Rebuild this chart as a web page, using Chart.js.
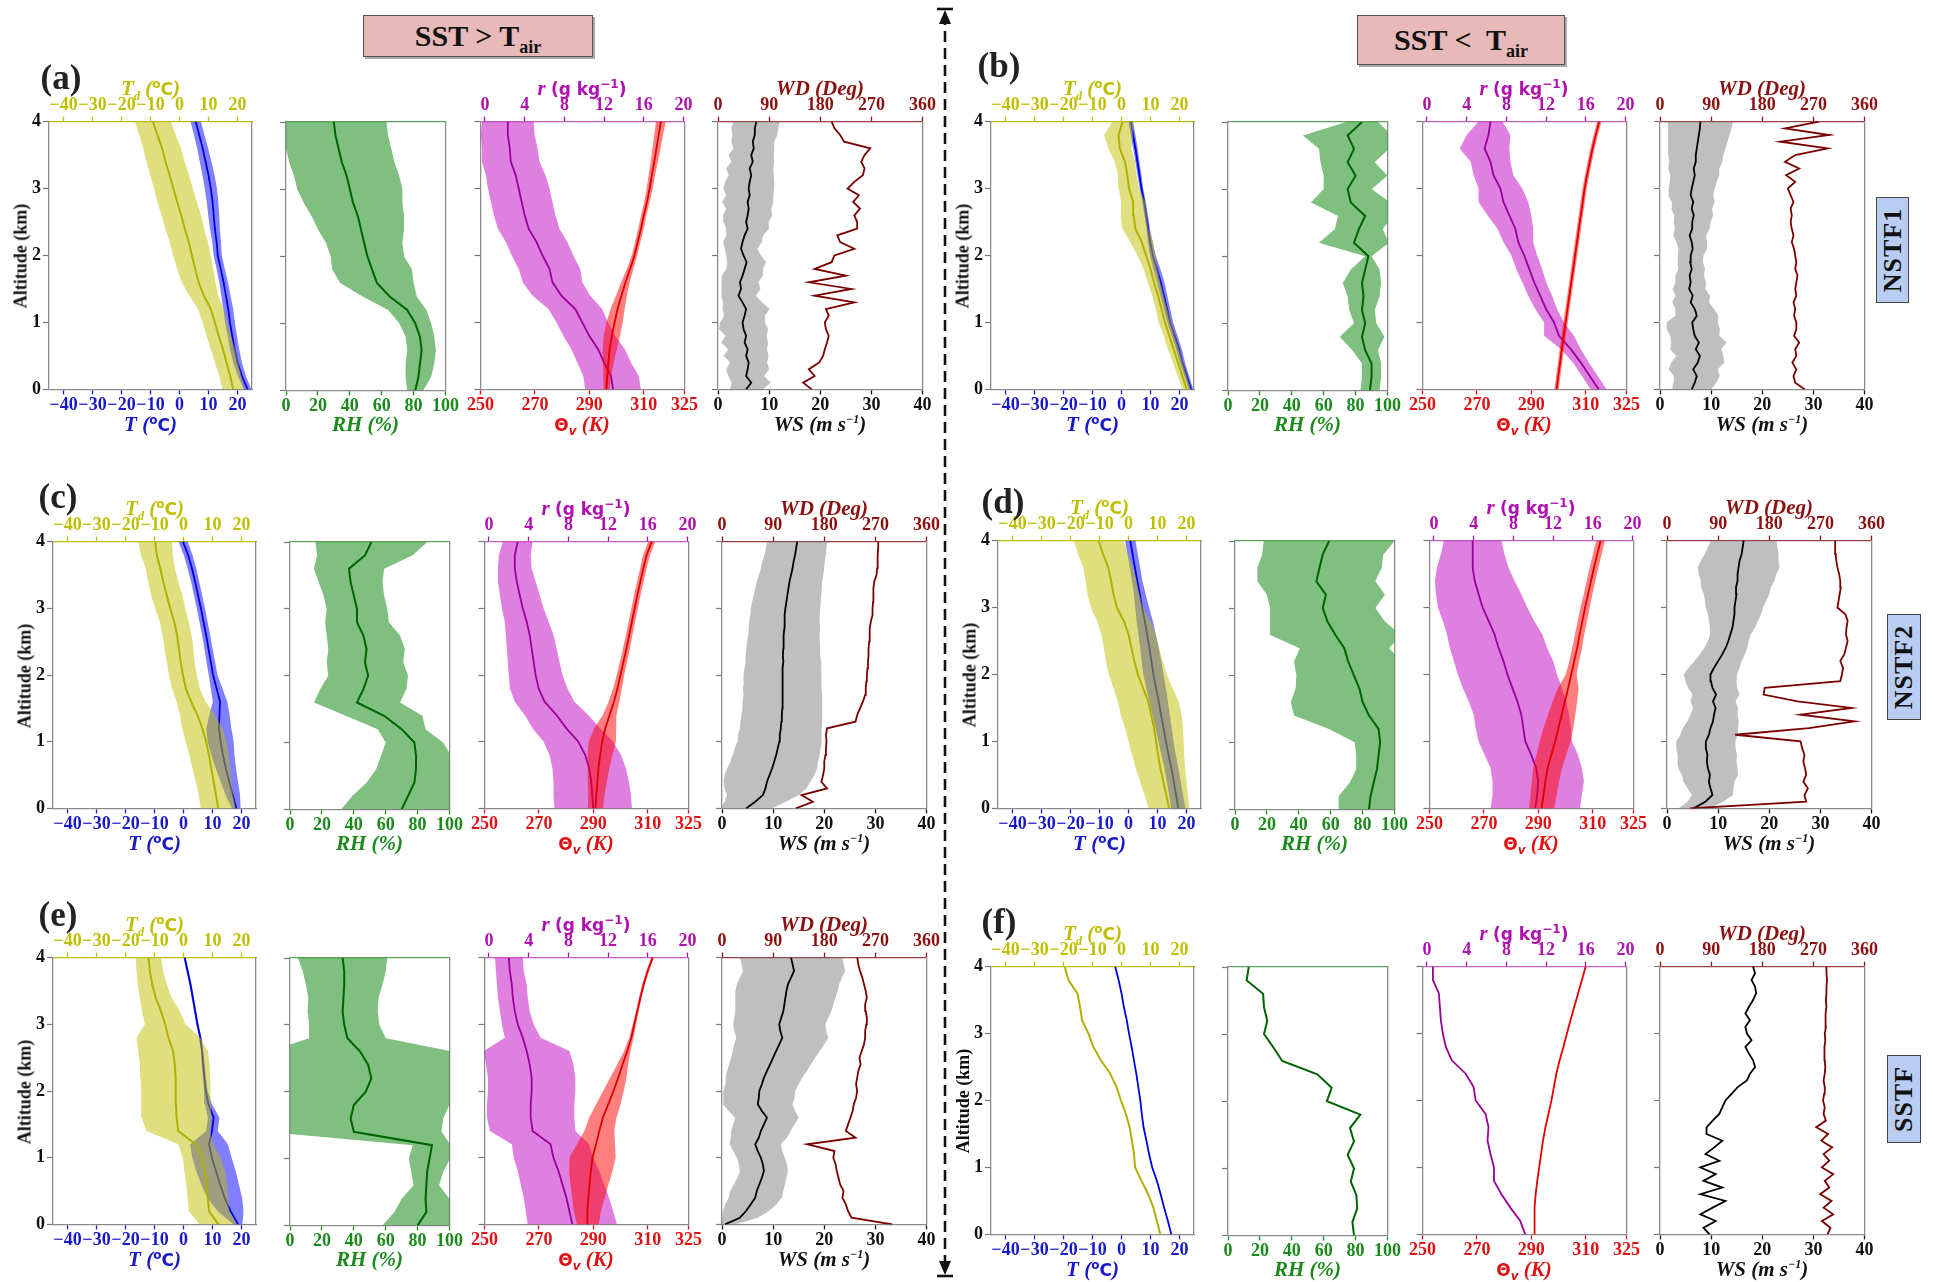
<!DOCTYPE html>
<html><head><meta charset="utf-8">
<script src="https://cdn.jsdelivr.net/npm/chart.js@4.4.1/dist/chart.umd.min.js"></script>
<style>
html,body{margin:0;padding:0;background:#fff;}
body{width:1934px;height:1282px;position:relative;overflow:hidden;font-family:"Liberation Serif","Times New Roman",serif;}
canvas{position:absolute;}
.ttl{position:absolute;transform:translate(-50%,-50%);white-space:nowrap;font:italic bold 21px "Liberation Serif",serif;line-height:1;}
.ttl .s{font-family:"DejaVu Sans",sans-serif;font-style:normal;font-size:17px;}
.ttl sub,.ttl sup{font-size:12px;line-height:0;}
.alt{position:absolute;transform:translate(-50%,-50%) rotate(-90deg);white-space:nowrap;font:bold 18px "Liberation Serif",serif;color:#111;}
.lab{position:absolute;transform:translate(-50%,-50%);font:bold 35px "Liberation Serif",serif;color:#222;}
.hdr{position:absolute;background:#e8b9b9;border:1.5px solid #555;box-shadow:2px 2px 0 #aaa;box-sizing:border-box;}
.hdr span{position:absolute;left:50%;top:50%;transform:translate(-50%,-50%);white-space:nowrap;font:bold 30px "Liberation Serif",serif;color:#111;line-height:1;}
.hdr sub{font-size:18px;line-height:0;}
.side{position:absolute;background:#b9cdf2;border:1.5px solid #444;box-sizing:border-box;}
.side span{position:absolute;left:50%;top:50%;transform:translate(-50%,-50%) rotate(-90deg);font:bold 26px "Liberation Serif",serif;color:#111;letter-spacing:1px;}
</style></head><body>
<script>
// ---------------- DATA ----------------
const ALT = [0,0.2,0.4,0.6,0.8,1.0,1.2,1.4,1.6,1.8,2.0,2.2,2.4,2.6,2.8,3.0,3.2,3.4,3.6,3.8,4.0];
const ALT_FINE = [0,0.1,0.2,0.3,0.4,0.5,0.6,0.7,0.8,0.9,1.0,1.1,1.2,1.3,1.4,1.5,1.6,1.7,1.8,1.9,2.0,2.1,2.2,2.3,2.4,2.5,2.6,2.7,2.8,2.9,3.0,3.1,3.2,3.3,3.4,3.5,3.6,3.7,3.8,3.9,4.0];

const ALT_TICKS = [0,1,2,3,4];
const T_TICKS = [-40,-30,-20,-10,0,10,20];
const RH_TICKS = [0,20,40,60,80,100];
const TH_TICKS = [250,270,290,310,325];
const R_TICKS = [0,4,8,12,16,20];
const WS_TICKS = [0,10,20,30,40];
const WD_TICKS = [0,90,180,270,360];

const PANEL_LABELS = ['(a)','(b)','(c)','(d)','(e)','(f)'];
const CASE_NAMES = ['NSTF1','NSTF2','SSTF'];

// (a)
const T_a = [23.5,21.5,20.0,19.0,18.2,17.4,16.8,16.0,15.2,14.2,13.2,12.8,12.2,11.8,11.4,10.8,10.0,9.0,8.0,6.8,5.6];
const T_a_sd = [1.3,1.4,1.5,1.6,1.6,1.7,1.7,1.6,1.5,1.4,1.4,1.5,1.7,1.9,2.0,2.1,2.1,2.0,1.9,1.8,1.8];
const TD_a = [18.5,17.5,16.2,15.0,13.5,12.2,10.8,8.4,6.6,5.4,4.3,3.2,1.8,0.6,-0.8,-2.1,-3.4,-4.8,-6.0,-7.6,-9.2];
const TD_a_sd = [3.6,3.8,4.0,4.2,4.2,4.2,4.4,5.0,5.8,6.2,6.5,6.6,6.7,6.8,6.8,6.7,6.7,6.6,6.5,6.3,6.2];
const RH_a = [81,83,84,85,84,81,76,65,57,54,51,49,47,45,42,40,38,35,33,31,30];
const RH_a_sd = [5,8,9,9,9,10,12,17,23,25,23,24,27,29,31,33,33,33,33,33,33];
const TH_a = [296.3,296.6,297,297.5,298.3,299.3,300.4,301.8,303.3,305,306.6,307.8,309,310,311.2,312.2,313,313.9,314.7,315.5,316.3];
const TH_a_sd = [1,1.4,2,2.6,3,3,2.6,2,1.6,1.2,1.0,1,1,1,1,1.1,1.2,1.3,1.5,1.6,1.8];
const R_a = [12.9,12.7,12.0,11.4,10.5,9.8,9.1,7.7,6.8,6.5,5.8,5.2,4.4,4.0,3.7,3.4,3.1,2.6,2.5,2.3,2.3];
const R_a_sd = [2.8,2.8,2.7,2.7,2.6,2.6,2.7,2.9,3,3.1,3.1,3.1,3.1,3.1,3.1,3.1,3,2.9,2.8,2.7,2.6];
const WS_a = [5.5,6.5,5.5,5.8,6.0,5.5,5.8,5.2,5.5,5.0,4.8,5.2,5.5,4.8,4.0,4.5,4.3,4.8,5.2,5.6,5.0,4.5,4.8,5.2,5.8,5.5,5.8,6.0,5.8,6.2,6.0,6.2,6.5,6.2,6.8,6.5,7.0,6.8,7.2,7.2,7.5];
const WS_a_sd = [3.2,3.8,3.5,4.2,3.6,4.4,3.8,4.6,4.0,4.8,4.4,4.0,4.6,3.8,3.4,3.8,3.6,4.0,3.6,3.8,3.4,3.2,3.8,3.6,4.2,4.4,4.8,4.4,5.0,4.6,5.0,4.8,4.4,4.6,4.2,4.4,4.0,4.2,4.4,4.6,4.5];
const WD_a = [165,150,170,160,178,185,188,192,195,190,188,195,190,240,170,235,160,225,170,200,205,240,215,210,245,245,240,250,238,248,228,240,255,258,252,258,268,222,215,205,200];

// (b)
const T_b = [24,22.5,21,19.8,18.3,16.8,15.7,14.6,13.5,12.2,10.8,9.9,9.2,8.5,7.8,6.9,6.2,5.5,4.8,4.0,3.2];
const T_b_sd = [0.8,0.8,0.9,1,1,1,1.1,1.2,1.3,1.2,1,0.8,0.6,0.6,0.6,0.6,0.7,0.7,0.8,0.8,0.8];
const TD_b = [22.5,21,19.5,18,16.5,15,13.8,12.6,11.2,10,8.5,7,4.8,4.2,4.0,2.6,2.0,1.2,-0.6,-1.0,0.4];
const TD_b_sd = [1.5,1.6,1.8,2,2,2.2,2.0,2.0,2.2,2.4,3,4,4.5,4.5,4.2,3.5,3.2,3.5,4,5,3.5];
const RH_b = [89,90,90,86,84,86,84,85,84,86,88,79,82,86,77,75,80,75,79,75,84];
const RH_b_sd = [6,6,6,8,14,7,8,10,12,9,2,22,15,17,25,15,20,17,22,28,10];
const TH_b = [299.3,299.9,300.6,301.2,301.9,302.6,303.3,304,304.7,305.4,306.1,306.8,307.5,308.2,308.9,309.6,310.5,311.5,312.5,313.7,315];
const TH_b_sd = [0.8,0.8,0.8,0.8,0.8,0.8,0.8,0.8,0.8,0.8,0.8,0.8,0.8,0.8,0.8,0.8,0.8,0.8,0.8,0.8,0.8];
const R_b = [17.3,16.4,15.5,14.5,13.3,12.8,12,11.4,10.8,10.3,9.8,9.2,8.9,8.3,7.7,7.4,6.7,6.4,5.8,6.2,6.4];
const R_b_sd = [0.8,0.8,0.8,1.0,1.5,1.0,1.1,1.2,1.2,1.3,1.3,1.5,1.8,2.2,2.5,2.2,2.0,2.0,2.5,2.2,1.2];
const WS_b = [6.2,6.8,7.2,6.5,7.4,7.8,7.0,7.6,6.8,6.5,6.3,7.2,6.8,6.0,6.4,5.7,6.0,5.8,6.2,5.9,6.0,6.4,6.2,5.8,6.3,6.3,6.6,6.2,6.5,6.0,6.2,6.5,6.8,6.6,7.0,7.0,7.2,7.4,7.6,7.8,7.9];
const WS_b_sd = [3.8,4.2,4.5,4.8,5.2,4.6,5.0,5.4,4.8,5.2,5.0,4.2,3.8,3.6,3.4,3.2,3.0,2.8,2.6,2.5,2.5,2.8,3.0,3.2,3.4,3.6,3.8,4.0,4.2,4.4,4.5,4.6,4.8,5.0,5.2,5.4,5.6,5.8,6.0,6.2,6.4];
const WD_b = [255,238,235,240,233,240,238,245,236,240,240,236,238,235,240,238,240,242,238,240,238,236,232,235,232,230,232,230,235,230,225,238,222,245,220,238,295,212,298,220,280];

// (c)
const T_c = [18.2,17.0,15.8,14.6,13.6,12.8,12.2,12.4,12.6,11.4,10.2,9.4,8.6,7.8,6.9,6.0,5.0,4.0,2.9,1.6,-0.2];
const T_c_sd = [1.5,2.5,3,3.5,4,4.5,4.3,3.5,2.5,2,1.5,1.5,1.4,1.4,1.4,1.4,1.4,1.4,1.5,1.5,1.6];
const TD_c = [12,11.2,10.4,9.6,8.8,7.8,6.5,4.8,2.6,0.8,-0.2,-1.0,-1.6,-2.2,-3.2,-4.6,-5.8,-7.0,-8.0,-9.2,-9.8];
const TD_c_sd = [6,6,6.2,6.5,6.8,7,7,6,5,4.8,4.8,4.8,5,5,5,5.2,5.4,5.2,5.0,5.5,5.8];
const RH_c = [70,74,78,79,79,78,70,59,42,46,49,47,48,46,42,42,40,38,37,47,51];
const RH_c_sd = [38,35,30,25,22,18,15,24,27,27,25,24,24,23,20,19,19,20,22,30,35];
const TH_c = [290.8,291.1,291.5,291.9,292.5,293.3,294.4,296,297.6,298.9,300,301.1,302.2,303.2,304.2,305.2,306.2,307.3,308.4,309.6,311.5];
const TH_c_sd = [2.8,3,3.5,4,4.5,5,4,2.5,2,1.6,1.4,1.3,1.3,1.2,1.2,1.2,1.2,1.2,1.2,1.3,1.3];
const R_c = [10.5,10.4,10.3,10.1,9.7,9.0,7.8,6.8,5.6,5.0,4.7,4.5,4.3,4.1,3.8,3.4,3.1,2.8,2.6,2.6,2.9];
const R_c_sd = [3.9,3.9,3.8,3.7,3.6,3.5,3.4,3.2,3,2.9,2.7,2.6,2.5,2.4,2.2,2.1,2,1.9,1.7,1.6,1.5];
const WS_c = [4.7,6.5,8.0,8.5,8.8,9.3,9.8,10.2,10.6,10.9,11.2,11.3,11.5,11.6,11.7,11.8,11.8,11.9,11.8,11.9,11.8,11.9,12.0,11.9,12.0,12.0,12.1,12.2,12.2,12.3,12.4,12.6,12.8,13.0,13.2,13.5,13.8,14.0,14.3,14.5,14.7];
const WS_c_sd = [5.0,6.0,7.0,8.0,8.5,8.8,8.8,8.6,8.5,8.4,8.2,8.2,8.0,8.0,7.9,7.8,7.8,7.7,7.7,7.6,7.6,7.5,7.4,7.3,7.2,7.1,7.0,7.0,6.9,6.8,6.8,6.7,6.6,6.5,6.4,6.3,6.2,6.1,6.0,5.9,5.9];
const WD_c = [130,160,140,185,175,178,180,180,182,183,184,183,185,235,238,243,248,252,253,254,255,256,257,258,258,259,260,260,262,265,265,266,266,267,268,272,273,274,274,275,275];

// (d)
const T_d = [17.2,16.4,15.6,14.8,13.8,12.9,12.1,11.2,10.4,9.5,8.6,7.9,7.2,6.4,5.6,4.7,3.9,3.0,2.2,1.4,0.6];
const T_d_sd = [2.5,2.4,2.4,2.4,2.5,2.6,2.8,3,3.2,3.4,3.5,3.4,3.2,3,2.8,2.4,2,1.8,1.8,1.8,1.8];
const TD_d = [14,13,12,11,10.2,9.5,8.8,7.8,6.8,5,3.2,2,1,0,-1.6,-4.0,-5.2,-6,-7,-8.8,-10.3];
const TD_d_sd = [7,7.5,8,8.5,9,9.5,10,10.5,10.5,10.2,10,9.8,9.5,9.4,9.2,9,9,8.8,8.6,8.6,8.6];
const RH_d = [84,85,87,89,90,91,90,84,80,78,74.5,71,68.6,63,58,55,57,51,53,55,59];
const RH_d_sd = [19,20,15,13,14,16,31,47,45,40,36,34,28,41,36,33,37,37,39,38,41];
const TH_d = [291.2,291.9,292.6,293.4,294.8,296.2,297.4,298.6,299.8,301,302.1,303.2,304.3,305.2,306.2,307.2,308.3,309.4,310.5,311.7,312.9];
const TH_d_sd = [4.6,4.8,5,5.3,5.5,5.7,5.5,5,4.5,3.8,2,1.8,1.8,1.7,1.7,1.7,1.6,1.6,1.6,1.6,1.6];
const R_d = [10.2,10.4,10.5,10.3,9.8,9.2,9.0,8.8,8.4,7.9,7.4,7.0,6.5,6.1,5.5,4.9,4.5,4.1,3.9,3.9,3.9];
const R_d_sd = [4.5,4.5,4.6,4.6,4.7,4.7,4.8,4.8,4.9,5,5,5,4.9,4.8,4.6,4.5,4.3,4,3.6,3.2,2.9];
const WS_d = [5.2,7.5,8.9,8.5,8.2,8.4,8.0,7.8,7.9,7.6,7.6,8.2,8.5,9.0,9.2,9.5,9.0,9.6,8.9,8.6,8.5,9.2,10.0,10.8,11.5,12.0,12.4,12.8,13.0,13.2,13.2,13.4,13.6,13.5,13.8,13.8,14.0,14.2,14.6,14.8,15.0];
const WS_d_sd = [3,3.5,4,4.5,5,5.5,5.8,5.8,5.8,5.8,5.8,5.6,5.4,5,4.6,4.4,4.4,4.6,4.8,5,5.2,5,4.6,4.4,4.2,4,4,4.4,4.8,5.2,5.6,6,6.4,6.8,7.2,7.6,8,7.6,7.2,6.8,6.4];
const WD_d = [40,245,242,248,240,245,243,240,242,238,235,120,250,330,235,325,230,170,172,305,308,310,305,312,315,318,315,316,318,314,300,302,304,306,305,303,300,298,297,296,296];

// (e)
const T_e = [18.8,16.2,14.2,12.6,11.2,9.8,8.8,9.8,10.4,8.6,7.7,7.2,6.8,6.4,5.8,4.8,4.0,3.2,2.4,1.4,0.4];
const T_e_sd = [1.5,4.5,6,6.5,6.8,6.8,6.5,2,2,1.2,0.6,0.5,0.5,0.4,0.4,0.4,0.4,0.4,0.4,0.4,0.4];
const TD_e = [12,8.8,8.4,8.0,7.3,6.3,4.2,-1.8,-2.4,-2.6,-2.6,-2.8,-3.0,-3.6,-5.2,-6.3,-7.8,-9.6,-10.8,-11.6,-12.1];
const TD_e_sd = [6.5,7,7,7,7,6.5,6,11,12,12,12,12,12,12,11,7,6.5,5.5,5,4.6,4.4];
const RH_e = [80,85.5,85,85.5,86,87.5,89,40,38,40,47.5,51,49,44,36,34,33,33.5,34,34,33];
const RH_e_sd = [22,20,15,8,10,13,12,55,58,60,62,62,60,58,24,22,22,22,24,26,28];
const TH_e = [288,287.8,288.2,288.6,289.1,289.7,291,292.2,293.5,295.5,297.4,299.2,300.8,302.5,304,305.1,306.2,307.3,308.5,310,311.8];
const TH_e_sd = [4,5,6,7,8,8.5,7,5.5,5,4.5,3.8,3,2,1.2,0.8,0.6,0.5,0.5,0.5,0.5,0.5];
const R_e = [8.4,8.1,7.8,7.4,7.0,6.5,6.2,4.4,4.2,4.2,4.3,4.3,4.1,3.8,3.4,2.9,2.6,2.4,2.3,2.1,2.0];
const R_e_sd = [4.5,4.4,4.3,4.2,4.1,4,3.9,4.3,4.4,4.4,4.4,4.4,4.4,4.3,1.8,1.6,1.5,1.5,1.5,1.4,1.4];
const WS_e = [0.6,3.5,4.7,5.6,6.5,6.8,7.3,7.8,8.2,8.0,7.6,7.0,6.5,7.2,7.6,8.2,8.8,7.8,7.0,7.2,7.3,7.8,8.2,8.8,9.4,10.0,10.6,11.2,11.8,11.4,11.2,11.6,12.0,12.2,12.4,12.6,12.9,13.5,14.1,13.8,13.5];
const WS_e_sd = [2,3.5,4.5,5,5.2,5.2,5,4.8,4.7,4.7,4.7,4.8,5,5.5,5.8,6,6.2,6.5,6.8,7,7,7.2,7.5,7.8,8,8.2,8.5,8.8,9,9,9,9.2,9.4,9.6,9.8,10,10,10,10,10,10];
const WD_e = [300,228,222,218,212,214,208,205,202,200,196,198,150,235,218,222,226,230,232,236,238,236,238,240,244,242,246,250,252,252,254,255,253,252,255,253,250,247,243,240,238];

// (f) single profile, no spread
const T_f = [17.2,16,14.7,13.5,12.2,10.6,9.5,8.6,7.6,7,6.5,5.8,5.1,4.3,3.5,2.6,1.8,0.8,0.0,-1.0,-2.2];
const TD_f = [13.4,12.2,11,9.2,6.9,4.7,4.3,3.6,2.8,1.5,-0.2,-1.7,-3.9,-7.1,-9.7,-11.4,-13.6,-14.3,-15.2,-18.3,-19.6];
const RH_f = [79,78,81,80.5,77,79,75,79,76.5,83,62,65,56,34,28.5,22.6,24.6,22.6,22,11.7,13];
const TH_f = [291,291.1,291.3,291.6,292.2,292.9,293.6,294.3,295.2,296.3,297.4,298.3,299.2,300.4,301.8,303.1,304.4,305.8,307.2,308.6,310];
const R_f = [9.9,9.4,8.4,7.5,6.75,6.75,6.4,6.1,6.2,5.9,4.9,4.7,3.9,2.5,1.9,1.6,1.4,1.3,1.2,0.6,0.6];
const WS_f = [9.7,8.5,10.9,7.9,10.3,12.8,7.9,12.2,8.5,10.9,7.9,11.6,8.9,10.6,12.2,9.1,9.1,10.3,11.6,12.2,12.8,14.0,15.2,17.0,17.6,18.6,18.2,17.4,16.7,17.9,17.0,16.7,17.6,16.7,17.4,18.2,18.8,18.6,17.9,18.6,18.2];
const WD_f = [295,300,285,305,288,302,282,298,290,305,285,298,288,303,284,296,275,292,288,290,287,289,290,288,290,291,290,289,290,291,290,292,291,292,293,292,293,293,294,293,293];

// ---------------- LAYOUT / STYLE ----------------
const FONT_T = {family:'"Liberation Serif", serif', size:18, weight:'bold'};
const C = {
  T:'#0000dd', Tb:'rgba(0,0,255,0.5)', Tl:'#1818c8',
  TD:'#b0b000', TDb:'rgba(191,191,0,0.5)', TDl:'#bfbf00',
  RH:'#006400', RHb:'rgba(0,128,0,0.5)', RHl:'#1a8a1a',
  TH:'#e00000', THb:'rgba(255,0,0,0.5)', THl:'#dd1111',
  R:'#990099', Rb:'rgba(191,0,191,0.5)', Rl:'#b010b0',
  WS:'#000000', WSb:'rgba(128,128,128,0.5)', WSl:'#111111',
  WD:'#7a0000', WDl:'#8b1010', spine:'#8c8c8c'
};
const OFFS = [[0,203],[237,396],[431,635],[669,873]];
const GROUPS = [
  {x:49, y:122, h:268, lab:[61,78], T:T_a,Tsd:T_a_sd,TD:TD_a,TDsd:TD_a_sd,RH:RH_a,RHsd:RH_a_sd,TH:TH_a,THsd:TH_a_sd,R:R_a,Rsd:R_a_sd,WS:WS_a,WSsd:WS_a_sd,WD:WD_a},
  {x:991, y:122, h:268, lab:[999,66], T:T_b,Tsd:T_b_sd,TD:TD_b,TDsd:TD_b_sd,RH:RH_b,RHsd:RH_b_sd,TH:TH_b,THsd:TH_b_sd,R:R_b,Rsd:R_b_sd,WS:WS_b,WSsd:WS_b_sd,WD:WD_b},
  {x:53, y:542, h:267, lab:[58,497], T:T_c,Tsd:T_c_sd,TD:TD_c,TDsd:TD_c_sd,RH:RH_c,RHsd:RH_c_sd,TH:TH_c,THsd:TH_c_sd,R:R_c,Rsd:R_c_sd,WS:WS_c,WSsd:WS_c_sd,WD:WD_c},
  {x:998, y:541, h:268, lab:[1003,502], T:T_d,Tsd:T_d_sd,TD:TD_d,TDsd:TD_d_sd,RH:RH_d,RHsd:RH_d_sd,TH:TH_d,THsd:TH_d_sd,R:R_d,Rsd:R_d_sd,WS:WS_d,WSsd:WS_d_sd,WD:WD_d},
  {x:53, y:958, h:267, lab:[58,915], T:T_e,Tsd:T_e_sd,TD:TD_e,TDsd:TD_e_sd,RH:RH_e,RHsd:RH_e_sd,TH:TH_e,THsd:TH_e_sd,R:R_e,Rsd:R_e_sd,WS:WS_e,WSsd:WS_e_sd,WD:WD_e},
  {x:991, y:967, h:268, lab:[999,922], T:T_f,Tsd:null,TD:TD_f,TDsd:null,RH:RH_f,RHsd:null,TH:TH_f,THsd:null,R:R_f,Rsd:null,WS:WS_f,WSsd:null,WD:WD_f}
];

function fmt(v){ return v < 0 ? '\u2212' + Math.abs(v) : String(v); }
function prof(vals, alts){ return vals.map((v,i)=>({x:v, y:alts[i]})); }
function band(vals, sd, alts){
  const lo = vals.map((v,i)=>({x:v - sd[i], y:alts[i]}));
  const hi = vals.map((v,i)=>({x:v + sd[i], y:alts[i]})).reverse();
  return lo.concat(hi);
}
function lineDs(data, color, ax, w){ return {data, borderColor:color, borderWidth:w||2, showLine:true, pointRadius:0, fill:false, xAxisID:ax, yAxisID:'y'}; }
function bandDs(data, color, ax){ return {data, backgroundColor:color, borderWidth:0, borderColor:'rgba(0,0,0,0)', showLine:true, pointRadius:0, fill:'shape', xAxisID:ax, yAxisID:'y'}; }

function xAxis(pos, min, max, ticks, col, spine){
  const ax = {type:'linear', position:pos, min, max,
    border:{display:true, color:spine, width:1.3},
    grid:{display:!!ticks, drawOnChartArea:false, drawTicks:true, tickLength:5, tickColor:col, tickWidth:1.3},
    ticks:{display:!!ticks, color:col, font:FONT_T, padding:0, autoSkip:false, maxRotation:0, minRotation:0, callback:fmt}
  };
  if (ticks) ax.afterBuildTicks = s => { s.ticks = ticks.map(v=>({value:v})); };
  return ax;
}
function yAxes(showLabels){
  return {
    y:{type:'linear', position:'left', min:0, max:4,
      afterBuildTicks: s => { s.ticks = ALT_TICKS.map(v=>({value:v})); },
      border:{display:true, color:C.spine, width:1.3},
      grid:{display:true, drawOnChartArea:false, drawTicks:true, tickLength:6, tickColor:'#777', tickWidth:1.2},
      ticks:{display:showLabels, color:'#111', font:FONT_T, padding:2, callback:fmt}},
    yr:{type:'linear', position:'right', min:0, max:4,
      border:{display:true, color:C.spine, width:1.3},
      grid:{display:false, drawTicks:false}, ticks:{display:false}}
  };
}
function cfg(datasets, scales){
  return {type:'scatter', data:{datasets},
    options:{responsive:false, animation:false, events:[], maintainAspectRatio:false,
      layout:{padding:{left:2,right:2,top:2,bottom:2}},
      plugins:{legend:{display:false}, tooltip:{enabled:false}},
      scales}};
}
function mount(target, make){
  const W0 = Math.round(target.w)+80, H0 = Math.round(target.h)+80;
  let c = document.createElement('canvas'); c.width=W0; c.height=H0; c.style.width=W0+'px'; c.style.height=H0+'px';
  document.body.appendChild(c);
  let ch = new Chart(c, make()); let ca = ch.chartArea;
  const dw = Math.round(target.w - (ca.right-ca.left)), dh = Math.round(target.h - (ca.bottom-ca.top));
  ch.destroy(); c.remove();
  const W = W0+dw, H = H0+dh;
  c = document.createElement('canvas'); c.width=W; c.height=H; c.style.width=W+'px'; c.style.height=H+'px';
  document.body.appendChild(c);
  ch = new Chart(c, make()); ca = ch.chartArea;
  c.style.left = Math.round(target.x - ca.left)+'px'; c.style.top = Math.round(target.y - ca.top)+'px';
  return ch;
}
function addText(cls, html, x, y, color){
  const d = document.createElement('div'); d.className=cls; d.innerHTML=html;
  d.style.left=x+'px'; d.style.top=y+'px'; if (color) d.style.color=color;
  document.body.appendChild(d); return d;
}

GROUPS.forEach((g, gi) => {
  const px = OFFS.map(o => ({x:g.x+o[0], w:o[1]-o[0]}));
  // Panel 1: T and Td
  mount({x:px[0].x, y:g.y, w:px[0].w, h:g.h}, () => {
    const ds = [];
    ds.push(lineDs(prof(g.TD, ALT), C.TD, 'x2'));
    if (g.TDsd) ds.push(bandDs(band(g.TD, g.TDsd, ALT), C.TDb, 'x2'));
    ds.push(lineDs(prof(g.T, ALT), C.T, 'x', 1.8));
    if (g.Tsd) ds.push(bandDs(band(g.T, g.Tsd, ALT), C.Tb, 'x'));
    return cfg(ds, Object.assign({
      x:xAxis('bottom',-45,25,T_TICKS,C.Tl,C.spine),
      x2:xAxis('top',-45,25,T_TICKS,C.TDl,C.TDl)}, yAxes(true)));
  });
  // Panel 2: RH
  mount({x:px[1].x, y:g.y, w:px[1].w, h:g.h}, () => {
    const ds = [lineDs(prof(g.RH, ALT), C.RH, 'x')];
    if (g.RHsd) ds.push(bandDs(band(g.RH, g.RHsd, ALT), C.RHb, 'x'));
    return cfg(ds, Object.assign({
      x:xAxis('bottom',0,100,RH_TICKS,C.RHl,C.spine),
      x2:xAxis('top',0,100,null,C.RHl,'#5aa55a')}, yAxes(false)));
  });
  // Panel 3: theta_v and r
  mount({x:px[2].x, y:g.y, w:px[2].w, h:g.h}, () => {
    const ds = [lineDs(prof(g.TH, ALT), C.TH, 'x', 1.8)];
    if (g.THsd) ds.push(bandDs(band(g.TH, g.THsd, ALT), C.THb, 'x'));
    ds.push(lineDs(prof(g.R, ALT), C.R, 'x2', 1.8));
    if (g.Rsd) ds.push(bandDs(band(g.R, g.Rsd, ALT), C.Rb, 'x2'));
    return cfg(ds, Object.assign({
      x:xAxis('bottom',250,325,TH_TICKS,C.THl,C.spine),
      x2:xAxis('top',-0.45,20.1,R_TICKS,C.Rl,'#c060c0')}, yAxes(false)));
  });
  // Panel 4: WS and WD
  mount({x:px[3].x, y:g.y, w:px[3].w, h:g.h}, () => {
    const ds = [lineDs(prof(g.WD, ALT_FINE), C.WD, 'x2', 1.8)];
    ds.push(lineDs(prof(g.WS, ALT_FINE), C.WS, 'x', 1.8));
    if (g.WSsd) ds.push(bandDs(band(g.WS, g.WSsd, ALT_FINE), C.WSb, 'x'));
    return cfg(ds, Object.assign({
      x:xAxis('bottom',0,40,WS_TICKS,C.WSl,C.spine),
      x2:xAxis('top',0,360,WD_TICKS,C.WDl,'#9a4040')}, yAxes(false)));
  });

  const bot = g.y + g.h, top = g.y;
  const cx = px.map(p => p.x + p.w/2);
  addText('ttl', '<i>T (</i><span class="s"><sup>o</sup>C</span><i>)</i>', cx[0], bot+34, C.Tl);
  addText('ttl', '<i>T<sub>d</sub> (</i><span class="s"><sup>o</sup>C</span><i>)</i>', cx[0], top-34, C.TDl);
  addText('ttl', '<i>RH (%)</i>', cx[1], bot+34, C.RHl);
  addText('ttl', '<span class="s">Θ<sub><i>v</i></sub></span> <i>(K)</i>', cx[2], bot+34, C.THl);
  addText('ttl', '<i>r</i> <span class="s">(g kg<sup>−1</sup>)</span>', cx[2], top-34, C.Rl);
  addText('ttl', '<i>WS (m s<sup>−1</sup>)</i>', cx[3], bot+34, '#111');
  addText('ttl', '<i>WD (Deg)</i>', cx[3], top-34, C.WDl);
  addText('alt', 'Altitude (km)', g.x - 28, g.y + g.h/2);
  addText('lab', PANEL_LABELS[gi], g.lab[0], g.lab[1]);
});

// headers
const h1 = document.createElement('div'); h1.className='hdr';
h1.style.cssText='left:363px;top:15px;width:230px;height:42px;'; h1.innerHTML='<span>SST &gt; T<sub>air</sub></span>';
document.body.appendChild(h1);
const h2 = document.createElement('div'); h2.className='hdr';
h2.style.cssText='left:1357px;top:15px;width:208px;height:50px;'; h2.innerHTML='<span>SST &lt;&nbsp; T<sub>air</sub></span>';
document.body.appendChild(h2);

// side case labels
[[1876,197,33,106],[1887,614,34,106],[1887,1055,34,88]].forEach((b,i)=>{
  const d = document.createElement('div'); d.className='side';
  d.style.left=b[0]+'px'; d.style.top=b[1]+'px'; d.style.width=b[2]+'px'; d.style.height=b[3]+'px';
  d.innerHTML='<span>'+CASE_NAMES[i]+'</span>';
  document.body.appendChild(d);
});

// central dashed separator with arrows
const svgNS='http://www.w3.org/2000/svg';
const svg=document.createElementNS(svgNS,'svg');
svg.setAttribute('width','40'); svg.setAttribute('height','1282');
svg.style.cssText='position:absolute;left:925px;top:0;';
svg.innerHTML='<line x1="20" y1="14" x2="20" y2="1268" stroke="#111" stroke-width="2.6" stroke-dasharray="11,6"/>'+
 '<line x1="12" y1="9" x2="28" y2="9" stroke="#111" stroke-width="2.6"/>'+
 '<polygon points="20,10 14,24 26,24" fill="#111"/>'+
 '<line x1="12" y1="1276" x2="28" y2="1276" stroke="#111" stroke-width="2.6"/>'+
 '<polygon points="20,1275 14,1261 26,1261" fill="#111"/>';
document.body.appendChild(svg);
</script>
</body></html>
